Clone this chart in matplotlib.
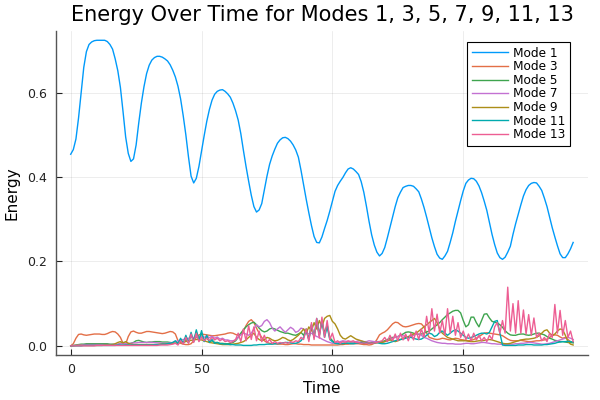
import numpy as np
import matplotlib
matplotlib.use("Agg")
import matplotlib.pyplot as plt

TITLE = "Energy Over Time for Modes 1, 3, 5, 7, 9, 11, 13"
LABELS = ["Mode 1", "Mode 3", "Mode 5", "Mode 7", "Mode 9", "Mode 11", "Mode 13"]
COLORS = ["#009AFA", "#E36F47", "#3EA44E", "#C371D2", "#AC8E18", "#00AAAE", "#ED5E93"]

# every mode sampled once per time unit, t = 0 .. 192
time = np.arange(0, 193, 1)

mode_1 = [
    0.454, 0.465, 0.49, 0.54, 0.60, 0.66, 0.697, 0.714, 0.72, 0.723,
    0.724, 0.724, 0.724, 0.724, 0.721, 0.714, 0.703, 0.68, 0.652, 0.612,
    0.555, 0.495, 0.456, 0.437, 0.443, 0.476, 0.528, 0.575, 0.614, 0.645,
    0.665, 0.677, 0.683, 0.686, 0.686, 0.684, 0.68, 0.675, 0.666, 0.653,
    0.637, 0.615, 0.585, 0.545, 0.50, 0.448, 0.402, 0.386, 0.397, 0.425,
    0.462, 0.498, 0.532, 0.56, 0.582, 0.596, 0.603, 0.606, 0.607, 0.603,
    0.597, 0.589, 0.575, 0.557, 0.535, 0.503, 0.463, 0.425, 0.39, 0.357,
    0.33, 0.317, 0.322, 0.337, 0.37, 0.402, 0.43, 0.45, 0.466, 0.48,
    0.488, 0.493, 0.494, 0.491, 0.485, 0.476, 0.464, 0.447, 0.416, 0.381,
    0.347, 0.315, 0.285, 0.259, 0.245, 0.244, 0.258, 0.278, 0.297, 0.319,
    0.343, 0.366, 0.38, 0.39, 0.399, 0.41, 0.419, 0.422, 0.419, 0.413,
    0.406, 0.389, 0.364, 0.331, 0.295, 0.263, 0.239, 0.222, 0.213, 0.219,
    0.233, 0.256, 0.281, 0.306, 0.33, 0.351, 0.364, 0.375, 0.378, 0.38,
    0.38, 0.378, 0.372, 0.365, 0.348, 0.328, 0.305, 0.28, 0.256, 0.235,
    0.217, 0.208, 0.205, 0.213, 0.224, 0.245, 0.268, 0.295, 0.32, 0.344,
    0.367, 0.385, 0.393, 0.397, 0.396, 0.39, 0.379, 0.363, 0.343, 0.321,
    0.292, 0.264, 0.24, 0.22, 0.209, 0.205, 0.21, 0.222, 0.236, 0.264,
    0.289, 0.312, 0.334, 0.355, 0.37, 0.38, 0.385, 0.387, 0.386, 0.378,
    0.368, 0.35, 0.33, 0.305, 0.28, 0.258, 0.237, 0.218, 0.209, 0.209,
    0.218, 0.23, 0.245,
]

mode_3 = [
    0, 0.005, 0.018, 0.027, 0.028, 0.026, 0.025, 0.026, 0.027, 0.028,
    0.028, 0.028, 0.027, 0.027, 0.029, 0.032, 0.034, 0.033, 0.028, 0.02,
    0.006, 0.004, 0.022, 0.033, 0.035, 0.032, 0.03, 0.03, 0.032, 0.034,
    0.034, 0.033, 0.032, 0.031, 0.03, 0.029, 0.03, 0.032, 0.034, 0.033,
    0.028, 0.012, 0.006, 0.004, 0.003, 0.003, 0.005, 0.012, 0.02, 0.026,
    0.028, 0.027, 0.026, 0.025, 0.024, 0.024, 0.025, 0.026, 0.027, 0.028,
    0.03, 0.031, 0.03, 0.027, 0.025, 0.028, 0.035, 0.048, 0.058, 0.062,
    0.055, 0.042, 0.03, 0.02, 0.012, 0.008, 0.006, 0.005, 0.005, 0.004,
    0.004, 0.004, 0.003, 0.003, 0.004, 0.005, 0.005, 0.004, 0.004, 0.003,
    0.003, 0.003, 0.002, 0.002, 0.002, 0.002, 0.002, 0.002, 0.002, 0.002,
    0.002, 0.002, 0.002, 0.003, 0.003, 0.004, 0.004, 0.005, 0.005, 0.005,
    0.005, 0.004, 0.003, 0.003, 0.002, 0.003, 0.006, 0.015, 0.026, 0.03,
    0.033, 0.038, 0.045, 0.052, 0.056, 0.055, 0.05, 0.046, 0.045, 0.046,
    0.048, 0.05, 0.052, 0.053, 0.052, 0.045, 0.03, 0.02, 0.018, 0.016,
    0.015, 0.016, 0.018, 0.017, 0.015, 0.014, 0.016, 0.018, 0.017, 0.015,
    0.014, 0.013, 0.012, 0.013, 0.015, 0.018, 0.022, 0.026, 0.03, 0.031,
    0.03, 0.029, 0.028, 0.027, 0.026, 0.024, 0.02, 0.016, 0.013, 0.012,
    0.012, 0.012, 0.013, 0.012, 0.011, 0.01, 0.01, 0.011, 0.012, 0.012,
    0.013, 0.014, 0.016, 0.02, 0.024, 0.026, 0.025, 0.021, 0.018, 0.02,
    0.015, 0.01, 0.008,
]

mode_5 = [
    0, 0.001, 0.002, 0.003, 0.004, 0.004, 0.005, 0.005, 0.005, 0.005,
    0.005, 0.005, 0.005, 0.005, 0.005, 0.004, 0.004, 0.003, 0.003, 0.006,
    0.008, 0.005, 0.004, 0.006, 0.008, 0.012, 0.013, 0.011, 0.009, 0.008,
    0.009, 0.009, 0.01, 0.01, 0.01, 0.009, 0.009, 0.009, 0.008, 0.007,
    0.006, 0.007, 0.01, 0.006, 0.015, 0.008, 0.025, 0.012, 0.033, 0.015,
    0.03, 0.012, 0.02, 0.01, 0.012, 0.008, 0.008, 0.006, 0.006, 0.005,
    0.005, 0.006, 0.008, 0.012, 0.02, 0.03, 0.038, 0.045, 0.05, 0.054,
    0.056, 0.05, 0.042, 0.036, 0.033, 0.035, 0.04, 0.042, 0.04, 0.037,
    0.034, 0.032, 0.03, 0.03, 0.028, 0.026, 0.025, 0.028, 0.032, 0.025,
    0.04, 0.015, 0.05, 0.02, 0.055, 0.025, 0.06, 0.03, 0.05, 0.02,
    0.012, 0.008, 0.006, 0.006, 0.005, 0.006, 0.006, 0.007, 0.007, 0.008,
    0.008, 0.007, 0.006, 0.006, 0.007, 0.008, 0.009, 0.01, 0.01, 0.01,
    0.012, 0.015, 0.018, 0.02, 0.02, 0.022, 0.025, 0.028, 0.032, 0.033,
    0.032, 0.03, 0.028, 0.027, 0.028, 0.03, 0.033, 0.035, 0.04, 0.045,
    0.05, 0.055, 0.062, 0.068, 0.074, 0.078, 0.082, 0.084, 0.084, 0.078,
    0.06, 0.045, 0.05, 0.068, 0.068, 0.055, 0.045, 0.06, 0.075, 0.076,
    0.066, 0.058, 0.056, 0.054, 0.05, 0.044, 0.036, 0.03, 0.026, 0.025,
    0.025, 0.027, 0.028, 0.028, 0.026, 0.025, 0.026, 0.028, 0.03, 0.03,
    0.028, 0.026, 0.022, 0.018, 0.016, 0.013, 0.012, 0.01, 0.01, 0.009,
    0.008, 0.008, 0.007,
]

mode_7 = [
    0, 0.001, 0.001, 0.002, 0.002, 0.003, 0.003, 0.003, 0.003, 0.003,
    0.003, 0.003, 0.003, 0.003, 0.003, 0.003, 0.003, 0.004, 0.004, 0.005,
    0.005, 0.005, 0.006, 0.006, 0.007, 0.007, 0.008, 0.008, 0.008, 0.008,
    0.008, 0.008, 0.008, 0.007, 0.007, 0.006, 0.006, 0.006, 0.007, 0.008,
    0.01, 0.012, 0.014, 0.015, 0.017, 0.018, 0.02, 0.02, 0.022, 0.02,
    0.022, 0.02, 0.024, 0.019, 0.023, 0.018, 0.021, 0.016, 0.018, 0.014,
    0.014, 0.012, 0.012, 0.014, 0.02, 0.026, 0.03, 0.028, 0.025, 0.03,
    0.04, 0.05, 0.045, 0.048, 0.058, 0.062, 0.055, 0.042, 0.035, 0.04,
    0.045, 0.038, 0.032, 0.038, 0.044, 0.04, 0.032, 0.035, 0.042, 0.04,
    0.032, 0.028, 0.03, 0.026, 0.022, 0.02, 0.016, 0.013, 0.01, 0.008,
    0.006, 0.007, 0.008, 0.01, 0.012, 0.011, 0.01, 0.01, 0.009, 0.01,
    0.012, 0.011, 0.01, 0.01, 0.012, 0.011, 0.01, 0.01, 0.008, 0.008,
    0.01, 0.012, 0.015, 0.018, 0.02, 0.022, 0.024, 0.024, 0.022, 0.02,
    0.022, 0.025, 0.028, 0.028, 0.025, 0.02, 0.018, 0.015, 0.012, 0.01,
    0.008, 0.007, 0.006, 0.006, 0.005, 0.005, 0.005, 0.004, 0.004, 0.004,
    0.005, 0.006, 0.006, 0.005, 0.005, 0.006, 0.007, 0.008, 0.008, 0.007,
    0.006, 0.005, 0.005, 0.004, 0.004, 0.003, 0.003, 0.003, 0.004, 0.004,
    0.005, 0.005, 0.006, 0.006, 0.007, 0.008, 0.008, 0.007, 0.006, 0.005,
    0.004, 0.004, 0.005, 0.006, 0.008, 0.01, 0.012, 0.014, 0.016, 0.018,
    0.02, 0.018, 0.015,
]

mode_9 = [
    0, 0, 0.001, 0.001, 0.001, 0.001, 0.001, 0.001, 0.001, 0.001,
    0.001, 0.001, 0.001, 0.002, 0.002, 0.002, 0.003, 0.005, 0.008, 0.01,
    0.007, 0.01, 0.006, 0.004, 0.003, 0.003, 0.003, 0.003, 0.003, 0.003,
    0.003, 0.003, 0.003, 0.003, 0.004, 0.004, 0.004, 0.005, 0.005, 0.006,
    0.006, 0.007, 0.008, 0.009, 0.01, 0.012, 0.013, 0.014, 0.015, 0.015,
    0.014, 0.012, 0.01, 0.008, 0.007, 0.006, 0.005, 0.004, 0.003, 0.003,
    0.003, 0.003, 0.004, 0.005, 0.006, 0.008, 0.01, 0.014, 0.02, 0.025,
    0.03, 0.02, 0.015, 0.012, 0.015, 0.02, 0.018, 0.014, 0.012, 0.013,
    0.016, 0.02, 0.018, 0.014, 0.012, 0.015, 0.02, 0.025, 0.032, 0.04,
    0.03, 0.045, 0.035, 0.055, 0.04, 0.06, 0.045, 0.065, 0.07, 0.072,
    0.058, 0.052, 0.04, 0.025, 0.018, 0.016, 0.02, 0.024, 0.02, 0.016,
    0.014, 0.012, 0.01, 0.008, 0.007, 0.006, 0.006, 0.007, 0.008, 0.008,
    0.01, 0.012, 0.014, 0.012, 0.01, 0.012, 0.015, 0.018, 0.02, 0.022,
    0.025, 0.028, 0.03, 0.035, 0.04, 0.045, 0.05, 0.055, 0.06, 0.065,
    0.055, 0.04, 0.03, 0.025, 0.02, 0.018, 0.016, 0.014, 0.012, 0.012,
    0.012, 0.012, 0.011, 0.01, 0.01, 0.011, 0.012, 0.012, 0.013, 0.014,
    0.015, 0.014, 0.012, 0.01, 0.008, 0.006, 0.005, 0.005, 0.006, 0.008,
    0.01, 0.012, 0.014, 0.015, 0.016, 0.016, 0.017, 0.018, 0.02, 0.024,
    0.03, 0.036, 0.038, 0.03, 0.025, 0.028, 0.035, 0.04, 0.038, 0.025,
    0.01, 0.004, 0.002,
]

mode_11 = [
    0, 0, 0, 0, 0, 0.001, 0.001, 0.001, 0.001, 0.001,
    0.001, 0.001, 0.001, 0.001, 0.001, 0.001, 0.001, 0.001, 0.002, 0.002,
    0.002, 0.002, 0.002, 0.002, 0.002, 0.002, 0.002, 0.002, 0.002, 0.002,
    0.002, 0.002, 0.003, 0.003, 0.003, 0.004, 0.004, 0.005, 0.006, 0.008,
    0.012, 0.005, 0.018, 0.006, 0.025, 0.008, 0.032, 0.01, 0.038, 0.012,
    0.036, 0.01, 0.025, 0.008, 0.015, 0.006, 0.008, 0.005, 0.005, 0.004,
    0.004, 0.003, 0.003, 0.002, 0.002, 0.002, 0.001, 0.001, 0.001, 0.001,
    0.002, 0.002, 0.003, 0.003, 0.003, 0.004, 0.004, 0.004, 0.005, 0.005,
    0.006, 0.007, 0.008, 0.008, 0.007, 0.006, 0.006, 0.008, 0.012, 0.02,
    0.035, 0.015, 0.05, 0.02, 0.065, 0.025, 0.06, 0.02, 0.045, 0.015,
    0.01, 0.006, 0.005, 0.005, 0.006, 0.007, 0.006, 0.005, 0.005, 0.006,
    0.007, 0.008, 0.008, 0.007, 0.006, 0.006, 0.007, 0.008, 0.006, 0.005,
    0.005, 0.006, 0.008, 0.01, 0.012, 0.014, 0.015, 0.016, 0.018, 0.02,
    0.02, 0.018, 0.016, 0.015, 0.016, 0.02, 0.025, 0.03, 0.028, 0.022,
    0.025, 0.032, 0.035, 0.03, 0.025, 0.03, 0.035, 0.038, 0.035, 0.03,
    0.025, 0.02, 0.018, 0.02, 0.022, 0.025, 0.028, 0.03, 0.03, 0.028,
    0.032, 0.045, 0.058, 0.06, 0.03, 0.002, 0.001, 0.001, 0.001, 0.001,
    0.001, 0.002, 0.002, 0.002, 0.003, 0.003, 0.003, 0.002, 0.002, 0.002,
    0.002, 0.003, 0.003, 0.004, 0.005, 0.006, 0.008, 0.009, 0.01, 0.01,
    0.011, 0.01, 0.009,
]

mode_13 = [
    0, 0, 0, 0, 0, 0, 0, 0, 0, 0,
    0.001, 0.001, 0.001, 0.001, 0.001, 0.001, 0.001, 0.001, 0.001, 0.001,
    0.001, 0.001, 0.001, 0.001, 0.001, 0.001, 0.001, 0.001, 0.001, 0.001,
    0.001, 0.001, 0.001, 0.001, 0.002, 0.002, 0.002, 0.002, 0.003, 0.004,
    0.006, 0.002, 0.012, 0.004, 0.02, 0.006, 0.028, 0.008, 0.03, 0.01,
    0.02, 0.012, 0.018, 0.013, 0.02, 0.014, 0.018, 0.012, 0.016, 0.01,
    0.012, 0.008, 0.01, 0.015, 0.03, 0.01, 0.04, 0.012, 0.048, 0.015,
    0.045, 0.012, 0.035, 0.01, 0.025, 0.008, 0.015, 0.006, 0.01, 0.006,
    0.008, 0.006, 0.008, 0.006, 0.01, 0.008, 0.012, 0.01, 0.02, 0.015,
    0.04, 0.01, 0.055, 0.015, 0.065, 0.018, 0.068, 0.02, 0.06, 0.015,
    0.03, 0.008, 0.012, 0.006, 0.01, 0.008, 0.012, 0.01, 0.012, 0.008,
    0.008, 0.006, 0.007, 0.006, 0.007, 0.006, 0.007, 0.008, 0.01, 0.012,
    0.02, 0.01, 0.025, 0.012, 0.028, 0.012, 0.03, 0.014, 0.028, 0.012,
    0.03, 0.014, 0.035, 0.015, 0.04, 0.02, 0.07, 0.03, 0.088, 0.035,
    0.075, 0.03, 0.06, 0.025, 0.088, 0.03, 0.07, 0.025, 0.055, 0.02,
    0.035, 0.015, 0.028, 0.012, 0.03, 0.014, 0.025, 0.012, 0.02, 0.01,
    0.025, 0.015, 0.045, 0.055, 0.03, 0.06, 0.03, 0.139, 0.035, 0.1,
    0.03, 0.107, 0.03, 0.085, 0.028, 0.074, 0.025, 0.066, 0.02, 0.03,
    0.012, 0.02, 0.01, 0.03, 0.02, 0.098, 0.03, 0.084, 0.025, 0.06,
    0.02, 0.035, 0.01,
]


def main() -> None:
    fig = plt.figure(figsize=(6, 4), dpi=100)
    # plot frame: x 55.6..588.2 px, y 31..355 px
    ax = fig.add_axes([0.0927, 0.1125, 0.8877, 0.81])

    series = [mode_1, mode_3, mode_5, mode_7, mode_9, mode_11, mode_13]
    for vals, col, lab in zip(series, COLORS, LABELS):
        ax.plot(time, vals, color=col, lw=1.0, label=lab)

    ax.set_xlim(-5.76, 197.76)
    ax.set_ylim(-0.0217, 0.746)
    ax.set_xticks([0, 50, 100, 150])
    ax.set_yticks([0.0, 0.2, 0.4, 0.6])
    ax.set_yticklabels(["0.0", "0.2", "0.4", "0.6"])
    ax.grid(True, color="black", alpha=0.1, lw=0.5)
    ax.tick_params(direction="in", length=4, width=0.8, labelsize=9,
                   colors="#222222", pad=6)
    for side in ("top", "right"):
        ax.spines[side].set_visible(False)
    for side in ("left", "bottom"):
        ax.spines[side].set_linewidth(1.0)
        ax.spines[side].set_color("#555555")

    fig.text(0.5375, 0.947, TITLE, fontsize=15, ha="center", va="baseline")

    ax.set_xlabel("Time", fontsize=11)
    ax.xaxis.label.set_va("baseline")
    ax.xaxis.set_label_coords(0.5, -0.116)
    ax.set_ylabel("Energy", fontsize=11)
    ax.yaxis.label.set_va("baseline")
    ax.yaxis.set_label_coords(-0.073, 0.5)

    leg = ax.legend(loc="upper right", bbox_to_anchor=(0.966, 0.967), fontsize=8.7,
                    fancybox=False, framealpha=1, edgecolor="black",
                    handlelength=3.0, handletextpad=0.4, labelspacing=0.05,
                    borderpad=0.4, borderaxespad=0)
    leg.get_frame().set_linewidth(0.8)

    fig.savefig("out.png", dpi=100)


if __name__ == "__main__":
    main()
